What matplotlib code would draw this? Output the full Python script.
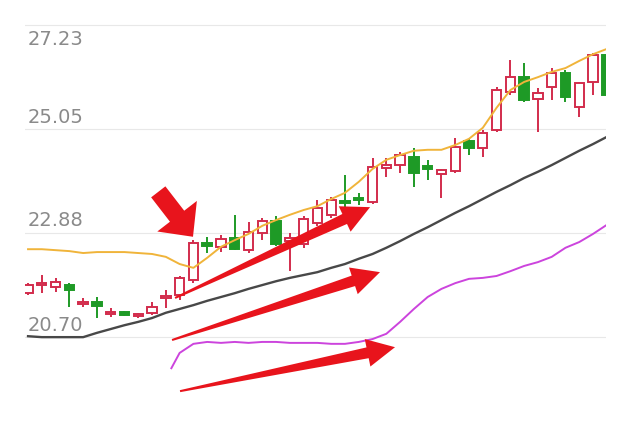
"""Candlestick chart with three moving averages and trend arrows."""

import matplotlib

matplotlib.use("Agg")
import matplotlib.pyplot as plt
import numpy as np
from matplotlib.patches import Polygon, Rectangle

# daily candles
opens = [21.62, 21.79, 21.75, 21.79, 21.39, 21.44, 21.19, 21.23, 21.14, 21.21,
         21.52, 21.58, 21.90, 22.67, 22.59, 22.77, 22.52, 22.88, 23.13, 22.71,
         22.65, 23.09, 23.26, 23.55, 23.61, 23.53, 24.24, 24.30, 24.47, 24.28,
         24.11, 24.18, 24.80, 24.66, 25.03, 25.83, 26.14, 25.68, 25.93, 26.23,
         25.52, 26.04, 26.60]
highs = [21.83, 22.00, 21.94, 21.83, 21.52, 21.54, 21.31, 21.25, 21.21, 21.44,
         21.69, 21.98, 22.73, 22.80, 22.84, 23.26, 23.11, 23.19, 23.23, 22.88,
         23.23, 23.57, 23.63, 24.09, 23.72, 24.45, 24.45, 24.57, 24.66, 24.41,
         24.22, 24.87, 24.85, 25.03, 25.93, 26.50, 26.44, 25.91, 26.33, 26.29,
         26.04, 26.64, 26.71]
lows = [21.58, 21.62, 21.64, 21.33, 21.33, 21.10, 21.12, 21.14, 21.10, 21.16,
        21.31, 21.48, 21.83, 22.46, 22.48, 22.52, 22.46, 22.73, 22.61, 22.08,
        22.57, 23.03, 23.19, 23.42, 23.47, 23.49, 24.05, 24.13, 23.84, 23.99,
        23.61, 24.13, 24.51, 24.47, 24.99, 25.77, 25.62, 24.99, 25.66, 25.62,
        25.31, 25.77, 25.72]
closes = [21.79, 21.83, 21.85, 21.69, 21.44, 21.35, 21.23, 21.16, 21.19, 21.33,
          21.56, 21.94, 22.67, 22.61, 22.75, 22.54, 22.90, 23.13, 22.65, 22.77,
          23.17, 23.40, 23.57, 23.51, 23.57, 24.26, 24.30, 24.51, 24.13, 24.22,
          24.20, 24.68, 24.66, 24.97, 25.87, 26.14, 25.66, 25.81, 26.23, 25.72,
          26.02, 26.60, 25.77]

# moving averages
ma_short = [22.54, 22.54, 22.52, 22.50, 22.46, 22.48, 22.48, 22.48, 22.46, 22.44,
            22.38, 22.23, 22.15, 22.36, 22.59, 22.73, 22.86, 23.03, 23.15, 23.26,
            23.36, 23.44, 23.59, 23.72, 23.95, 24.22, 24.41, 24.51, 24.60, 24.62,
            24.62, 24.72, 24.85, 25.08, 25.50, 25.87, 26.04, 26.14, 26.25, 26.33,
            26.48, 26.62, 26.73]
ma_mid = [20.72, 20.70, 20.70, 20.70, 20.70, 20.79, 20.87, 20.95, 21.02, 21.10,
          21.21, 21.29, 21.37, 21.46, 21.54, 21.62, 21.71, 21.79, 21.87, 21.94,
          22.00, 22.06, 22.15, 22.23, 22.34, 22.44, 22.57, 22.71, 22.86, 23.00,
          23.15, 23.30, 23.44, 23.59, 23.74, 23.88, 24.03, 24.16, 24.30, 24.45,
          24.60, 24.74, 24.89]
ma_long_index = [10.4] + list(range(11, 43))
ma_long = [20.05, 20.37, 20.56, 20.60, 20.58, 20.60, 20.58, 20.60, 20.60, 20.58,
           20.58, 20.58, 20.56, 20.56, 20.60, 20.66, 20.77, 21.02, 21.29, 21.54,
           21.71, 21.83, 21.92, 21.94, 21.98, 22.08, 22.19, 22.27, 22.38, 22.57,
           22.69, 22.86, 23.05]

price_levels = [27.23, 25.05, 22.88, 20.70]

# (start index, start price, end index, end price)
trend_arrows = [
    (10.67, 21.52, 24.82, 23.42),
    (10.45, 20.64, 25.54, 22.06),
    (11.03, 19.57, 26.63, 20.49),
]
pointer_arrow = (9.45, 23.74, 11.97, 22.80)

UP_COLOR = "#d22c4c"
DOWN_COLOR = "#1e9a26"
ARROW_COLOR = "#e8141c"


def wedge_arrow(ax, arrow, *, tail_width, shaft_width, head_width, head_length):
    """Filled arrow whose widths are given in pixels."""
    x0, y0, x1, y1 = arrow
    tail = ax.transData.transform((x0, y0))
    tip = ax.transData.transform((x1, y1))
    unit = (tip - tail) / np.hypot(*(tip - tail))
    normal = np.array([-unit[1], unit[0]])
    base = tip - unit * head_length
    points = np.array([
        tail + normal * tail_width / 2,
        base + normal * shaft_width / 2,
        base + normal * head_width / 2,
        tip,
        base - normal * head_width / 2,
        base - normal * shaft_width / 2,
        tail - normal * tail_width / 2,
    ])
    ax.add_patch(Polygon(ax.transData.inverted().transform(points), closed=True,
                         facecolor=ARROW_COLOR, edgecolor="none", zorder=6))


fig = plt.figure(figsize=(6.35, 4.25), dpi=100)
ax = fig.add_axes([25 / 635, 0, 581 / 635, 1])
ax.set_xlim(-0.22, 41.94)
ax.set_ylim(18.862, 27.754)
ax.set_axis_off()

for level in price_levels:
    ax.axhline(level, color="#e8e8e8", lw=0.8, zorder=0)
    offset = -14 if level == max(price_levels) else 12
    ax.annotate(f"{level:.2f}", xy=(0.004, level),
                xycoords=("axes fraction", "data"), xytext=(0, offset),
                textcoords="offset pixels", ha="left", va="center",
                fontsize=14, color="#8a8a8a", family="DejaVu Sans")

body_width = 0.68
for index, (o, h, l, c) in enumerate(zip(opens, highs, lows, closes)):
    rising = c >= o
    color = UP_COLOR if rising else DOWN_COLOR
    ax.vlines(index, l, h, color=color, lw=1.4, zorder=2)
    bottom = min(o, c)
    height = max(abs(c - o), 0.03)
    ax.add_patch(Rectangle((index - body_width / 2, bottom), body_width, height,
                           facecolor="white" if rising else color,
                           edgecolor=color, lw=1.4, zorder=3))

ax.plot(range(len(ma_short)), ma_short, color="#f0b43a", lw=1.4, zorder=4)
ax.plot(range(len(ma_mid)), ma_mid, color="#484848", lw=1.7, zorder=4)
ax.plot(ma_long_index, ma_long, color="#cc44dd", lw=1.4, zorder=4)

for arrow in trend_arrows:
    wedge_arrow(ax, arrow, tail_width=2, shaft_width=11,
                head_width=28, head_length=28)
wedge_arrow(ax, pointer_arrow, tail_width=18, shaft_width=18,
            head_width=50, head_length=26)

fig.savefig("out.png", dpi=100)
